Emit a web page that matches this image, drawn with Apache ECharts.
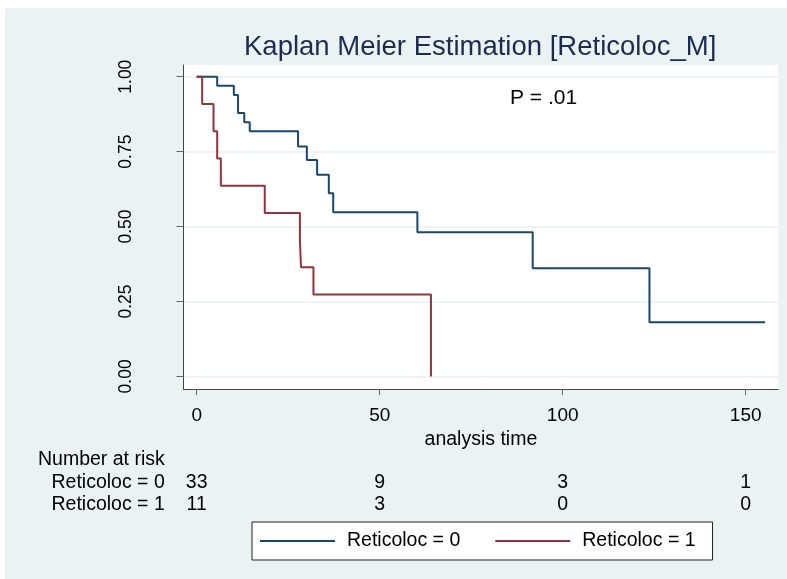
<!DOCTYPE html>
<html>
<head>
<meta charset="utf-8">
<script src="https://cdn.jsdelivr.net/npm/echarts@6/dist/echarts.min.js"></script>
<style>
html,body{margin:0;padding:0;background:#fff;}
#chart{width:787px;height:579px;background:linear-gradient(#eaf2f3,#eaf2f3) 5px 8px / 782px 571px no-repeat,#fff;}
</style>
</head>
<body>
<div id="chart"></div>
<script>
// ---- data ----
const titleText = 'Kaplan Meier Estimation [Reticoloc_M]';
const pText = 'P = .01';
const xAxisName = 'analysis time';
const groupNames = ['Reticoloc = 0', 'Reticoloc = 1'];
const xTicks = [0, 50, 100, 150];
const yTicks = [0, 0.25, 0.5, 0.75, 1];
// group 0 (Reticoloc = 0)
const time0 = [0, 5.6, 10.15, 11.3, 13, 14.5, 27.7, 30.1, 32.9, 36.1, 37.3, 60.3, 91.8, 123.7, 155.3];
const surv0 = [1, 0.970, 0.939, 0.879, 0.848, 0.818, 0.767, 0.722, 0.673, 0.611, 0.548, 0.481, 0.361, 0.181, 0.181];
// group 1 (Reticoloc = 1)
const time1 = [0, 1.5, 4.6, 5.6, 6.6, 18.6, 28.2, 28.5, 31.9, 64];
const surv1 = [1, 0.909, 0.818, 0.727, 0.636, 0.545, 0.455, 0.364, 0.273, 0];
// number at risk
const riskTimes = [0, 50, 100, 150];
const risk0 = [33, 9, 3, 1];
const risk1 = [11, 3, 0, 0];
const riskHeader = 'Number at risk';

// ---- chart ----
const FONT = '"Liberation Sans", Arial, sans-serif';
const colors = ['#1a476f', '#90353b'];
const chart = echarts.init(document.getElementById('chart'), null, {renderer: 'canvas'});
const pairs = (t, s) => t.map((v, i) => [v, s[i]]);

chart.setOption({
  backgroundColor: 'transparent',
  animation: false,
  title: {
    text: titleText,
    left: 244, top: 33, padding: 0,
    textStyle: {fontFamily: FONT, fontSize: 27.5, fontWeight: 'normal', color: '#1c2b52'}
  },
  grid: {
    left: 183.5, top: 65, width: 594.8, height: 324,
    show: true, backgroundColor: '#ffffff', borderWidth: 0,
    containLabel: false, outerBoundsMode: 'none'
  },
  legend: {
    left: 252, top: 522,
    padding: [9, 17, 9, 8],
    backgroundColor: '#ffffff', borderColor: '#222', borderWidth: 1,
    itemWidth: 75, itemHeight: 2, itemGap: 35,
    icon: 'rect',
    textStyle: {fontFamily: FONT, fontSize: 19.5, color: '#000', padding: [0, 0, 0, 7]},
    data: groupNames
  },
  xAxis: {
    type: 'value', min: -3.6, max: 158.9,
    name: xAxisName, nameLocation: 'middle', nameGap: 33,
    nameTextStyle: {fontFamily: FONT, fontSize: 19.5, color: '#000'},
    axisLine: {show: true, onZero: false, lineStyle: {color: '#444', width: 1}},
    axisTick: {show: true, customValues: xTicks, length: 6, lineStyle: {color: '#666'}},
    axisLabel: {customValues: xTicks, margin: 17, fontFamily: FONT, fontSize: 19, color: '#000'},
    splitLine: {show: false}
  },
  yAxis: {
    type: 'value', min: -0.042, max: 1.039,
    axisLine: {show: true, onZero: false, lineStyle: {color: '#444', width: 1}},
    axisTick: {show: true, customValues: yTicks, length: 7, lineStyle: {color: '#666'}},
    axisLabel: {customValues: yTicks, rotate: 90, margin: 48, fontFamily: FONT, fontSize: 17.5, color: '#000',
      formatter: v => v.toFixed(2)},
    splitLine: {show: true, lineStyle: {color: '#e8eff1', width: 1.5}}
  },
  series: [
    {name: groupNames[0], type: 'line', step: 'end', symbol: 'none', data: pairs(time0, surv0),
     color: colors[0], lineStyle: {color: colors[0], width: 2}},
    {name: groupNames[1], type: 'line', step: 'end', symbol: 'none', data: pairs(time1, surv1),
     color: colors[1], lineStyle: {color: colors[1], width: 2}}
  ]
});

const txt = (x, y, text, align) => ({
  type: 'text', x: x, y: y,
  style: {text: String(text), fill: '#000', font: '19.5px ' + FONT, textAlign: align || 'left', textVerticalAlign: 'middle'}
});
const g = [];
g.push({type: 'text', x: 510, y: 98.5,
  style: {text: pText, fill: '#000', font: '21px ' + FONT, textAlign: 'left', textVerticalAlign: 'middle'}});
g.push(txt(38, 460, riskHeader));
g.push(txt(51.5, 482.5, groupNames[0]));
g.push(txt(51.5, 505, groupNames[1]));
riskTimes.forEach((t, i) => {
  const px = chart.convertToPixel({xAxisIndex: 0}, t);
  g.push(txt(px, 482.5, risk0[i], 'center'));
  g.push(txt(px, 505, risk1[i], 'center'));
});
chart.setOption({graphic: g});
</script>
</body>
</html>
